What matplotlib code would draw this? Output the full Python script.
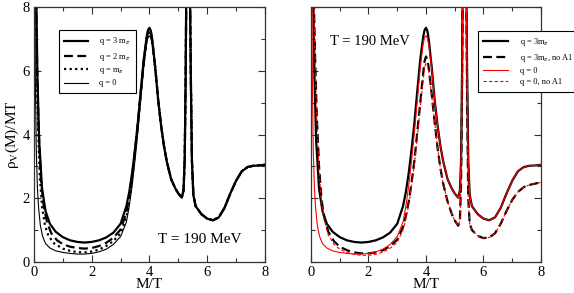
import matplotlib
matplotlib.use("Agg")
import matplotlib.pyplot as plt
from matplotlib.ticker import MultipleLocator

plt.rcParams["font.family"] = ["Liberation Serif", "DejaVu Serif"]
plt.rcParams["mathtext.fontset"] = "stix"

# shared high-mass part (x >= 4.3) of the full and "no A1" curves
tail_x = [4.3, 4.4, 4.5, 4.6, 4.75, 4.9, 5.0, 5.12, 5.18, 5.22, 5.25, 5.28, 5.40, 5.43,
          5.47, 5.52, 5.6, 5.8, 6.0, 6.2, 6.4, 6.6, 6.8, 7.0, 7.2, 7.4, 7.6, 7.8, 8.0]
tail_full = [5.1, 4.3, 3.65, 3.15, 2.6, 2.3, 2.15, 2.02, 2.25, 3.2, 5.5, 9.0, 9.0, 6.0,
             3.2, 2.1, 1.75, 1.5, 1.36, 1.31, 1.4, 1.7, 2.15, 2.55, 2.85, 2.98, 3.02,
             3.03, 3.05]
tail_noa1 = [4.4, 3.6, 2.95, 2.45, 1.9, 1.5, 1.3, 1.14, 1.3, 2.5, 5.0, 9.0, 9.0, 5.0,
             2.0, 1.2, 1.0, 0.82, 0.75, 0.77, 0.9, 1.2, 1.6, 1.95, 2.2, 2.35, 2.42,
             2.46, 2.5]

# low-mass parts (x < 4.3)
q3_x = [0.08, 0.12, 0.18, 0.28, 0.4, 0.55, 0.75, 1.0, 1.25, 1.5, 1.75, 2.0, 2.25, 2.5,
        2.75, 3.0, 3.2, 3.3, 3.4, 3.5, 3.6, 3.7, 3.8, 3.9, 3.95, 4.0, 4.05, 4.1, 4.2]
q3_y = [8.2, 5.8, 3.8, 2.3, 1.6, 1.2, 0.95, 0.78, 0.68, 0.63, 0.61, 0.63, 0.68, 0.77,
        0.92, 1.2, 1.75, 2.2, 2.8, 3.55, 4.4, 5.4, 6.35, 7.05, 7.28, 7.35, 7.25, 6.95, 6.1]

q2_x = [0.08, 0.11, 0.16, 0.24, 0.33, 0.45, 0.6, 0.8, 1.0, 1.25, 1.5, 1.75, 2.0, 2.25,
        2.5, 2.75, 3.0, 3.2, 3.3, 3.4, 3.5, 3.6, 3.7, 3.8, 3.9, 3.95, 4.0, 4.05, 4.1, 4.2]
q2_y = [8.2, 6.0, 4.2, 2.6, 1.8, 1.25, 0.9, 0.68, 0.56, 0.48, 0.44, 0.42, 0.44, 0.5,
        0.6, 0.76, 1.02, 1.55, 2.05, 2.7, 3.5, 4.35, 5.35, 6.3, 7.0, 7.22, 7.28, 7.2,
        6.92, 6.1]

q1_x = [0.07, 0.1, 0.14, 0.2, 0.28, 0.38, 0.5, 0.7, 1.0, 1.25, 1.5, 1.75, 2.0, 2.25,
        2.5, 2.75, 3.0, 3.2, 3.3, 3.4, 3.5, 3.6, 3.7, 3.8, 3.9, 3.95, 4.0, 4.05, 4.1, 4.2]
q1_y = [8.2, 6.0, 4.2, 2.7, 1.75, 1.15, 0.82, 0.58, 0.42, 0.35, 0.31, 0.3, 0.33, 0.39,
        0.5, 0.66, 0.9, 1.4, 1.95, 2.6, 3.45, 4.3, 5.3, 6.25, 6.95, 7.15, 7.2, 7.12,
        6.88, 6.1]

q0_x = [0.03, 0.05, 0.08, 0.12, 0.16, 0.22, 0.3, 0.4, 0.55, 0.75, 1.0, 1.25, 1.5, 1.75,
        2.0, 2.25, 2.5, 2.75, 3.0, 3.2, 3.3, 3.4, 3.5, 3.6, 3.7, 3.8, 3.9, 3.95, 4.0,
        4.05, 4.1, 4.2]
q0_y = [8.2, 5.5, 3.5, 2.3, 1.7, 1.15, 0.8, 0.58, 0.44, 0.35, 0.3, 0.27, 0.25, 0.25,
        0.27, 0.32, 0.4, 0.55, 0.8, 1.25, 1.75, 2.4, 3.2, 4.1, 5.1, 6.1, 6.85, 7.05, 7.1,
        7.02, 6.8, 6.05]

q3_noa1_x = [0.1, 0.14, 0.2, 0.28, 0.36, 0.45, 0.6, 0.8, 1.0, 1.25, 1.5, 1.75, 2.0, 2.25,
             2.5, 2.75, 3.0, 3.2, 3.3, 3.4, 3.5, 3.6, 3.7, 3.8, 3.9, 3.95, 4.0, 4.05,
             4.1, 4.2]
q3_noa1_y = [8.2, 6.5, 4.6, 3.0, 2.0, 1.45, 0.95, 0.65, 0.48, 0.37, 0.3, 0.27, 0.27, 0.3,
             0.37, 0.5, 0.7, 1.1, 1.45, 1.9, 2.5, 3.2, 4.1, 5.0, 5.9, 6.3, 6.45, 6.35,
             6.05, 5.25]

q0_noa1_x = [0.1, 0.14, 0.2, 0.28, 0.36, 0.45, 0.6, 0.8, 1.0, 1.25, 1.5, 1.75, 2.0, 2.25,
             2.5, 2.75, 3.0, 3.2, 3.3, 3.4, 3.5, 3.6, 3.7, 3.8, 3.9, 3.95, 4.0, 4.05,
             4.1, 4.2]
q0_noa1_y = [8.2, 6.4, 4.5, 2.9, 1.9, 1.35, 0.85, 0.55, 0.4, 0.3, 0.24, 0.21, 0.21, 0.24,
             0.31, 0.43, 0.62, 1.0, 1.35, 1.8, 2.4, 3.1, 3.95, 4.85, 5.7, 6.1, 6.25,
             6.18, 5.95, 5.2]

fig = plt.figure(figsize=(5.74, 2.93), dpi=100)
ax1 = fig.add_axes([0.0592, 0.1058, 0.4024, 0.870])
ax2 = fig.add_axes([0.5418, 0.1058, 0.4007, 0.870])

# left panel
ax1.plot(q3_x + tail_x, q3_y + tail_full, color="black", lw=1.6, label=r"q = 3 m$_\pi$")
ax1.plot(q2_x + tail_x, q2_y + tail_full, color="black", lw=1.6, ls=(0, (4, 2)),
         label=r"q = 2 m$_\pi$")
ax1.plot(q1_x + tail_x, q1_y + tail_full, color="black", lw=1.6, ls=(0, (1, 1.5)),
         label=r"q = m$_\pi$")
ax1.plot(q0_x + tail_x, q0_y + tail_full, color="black", lw=0.8, label="q = 0")
ax1.text(4.3, 0.72, "T = 190 MeV", fontsize=11, va="center")
ax1.set_ylabel(r"ρ$_{\rm V}$(M)/MT", fontsize=11, labelpad=1)

# right panel
ax2.plot(q3_x + tail_x, q3_y + tail_full, color="black", lw=1.6, label=r"q = 3m$_\pi$")
ax2.plot(q3_noa1_x + tail_x, q3_noa1_y + tail_noa1, color="black", lw=1.6,
         ls=(0, (4, 2)), label=r"q = 3m$_\pi$, no A1")
ax2.plot(q0_x + tail_x, q0_y + tail_full, color="red", lw=0.8, label="q = 0")
ax2.plot(q0_noa1_x + tail_x, q0_noa1_y + tail_noa1, color="red", lw=0.8,
         ls=(0, (3, 2)), label="q = 0, no A1")
ax2.text(0.66, 6.93, "T = 190 MeV", fontsize=10.5, va="center")
ax2.tick_params(labelleft=False)

for ax in (ax1, ax2):
    ax.set_xlim(0, 8)
    ax.set_ylim(0, 8)
    ax.xaxis.set_major_locator(MultipleLocator(2))
    ax.xaxis.set_minor_locator(MultipleLocator(1))
    ax.yaxis.set_major_locator(MultipleLocator(2))
    ax.yaxis.set_minor_locator(MultipleLocator(1))
    ax.tick_params(which="both", direction="in", top=True, right=True, labelsize=10.5,
                   width=0.8, color="#333333")
    ax.tick_params(which="major", length=5, pad=3)
    ax.tick_params(which="minor", length=3)
    for s in ax.spines.values():
        s.set_linewidth(0.9)
        s.set_color("#333333")
    ax.set_xlabel("M/T", fontsize=11, labelpad=-1)

leg_opts = dict(loc="upper left", fontsize=6, frameon=True, fancybox=False,
                edgecolor="black", framealpha=1, borderaxespad=0, labelspacing=0.4,
                handletextpad=1.4, borderpad=0.65)
leg1 = ax1.legend(bbox_to_anchor=(0.108, 0.91), handlelength=2.8, **leg_opts)
leg2 = ax2.legend(bbox_to_anchor=(0.726, 0.907), handlelength=3.0, **leg_opts)
for leg in (leg1, leg2):
    leg.get_frame().set_linewidth(0.8)
    leg.set_clip_on(False)

fig.savefig("out.png", dpi=100)
